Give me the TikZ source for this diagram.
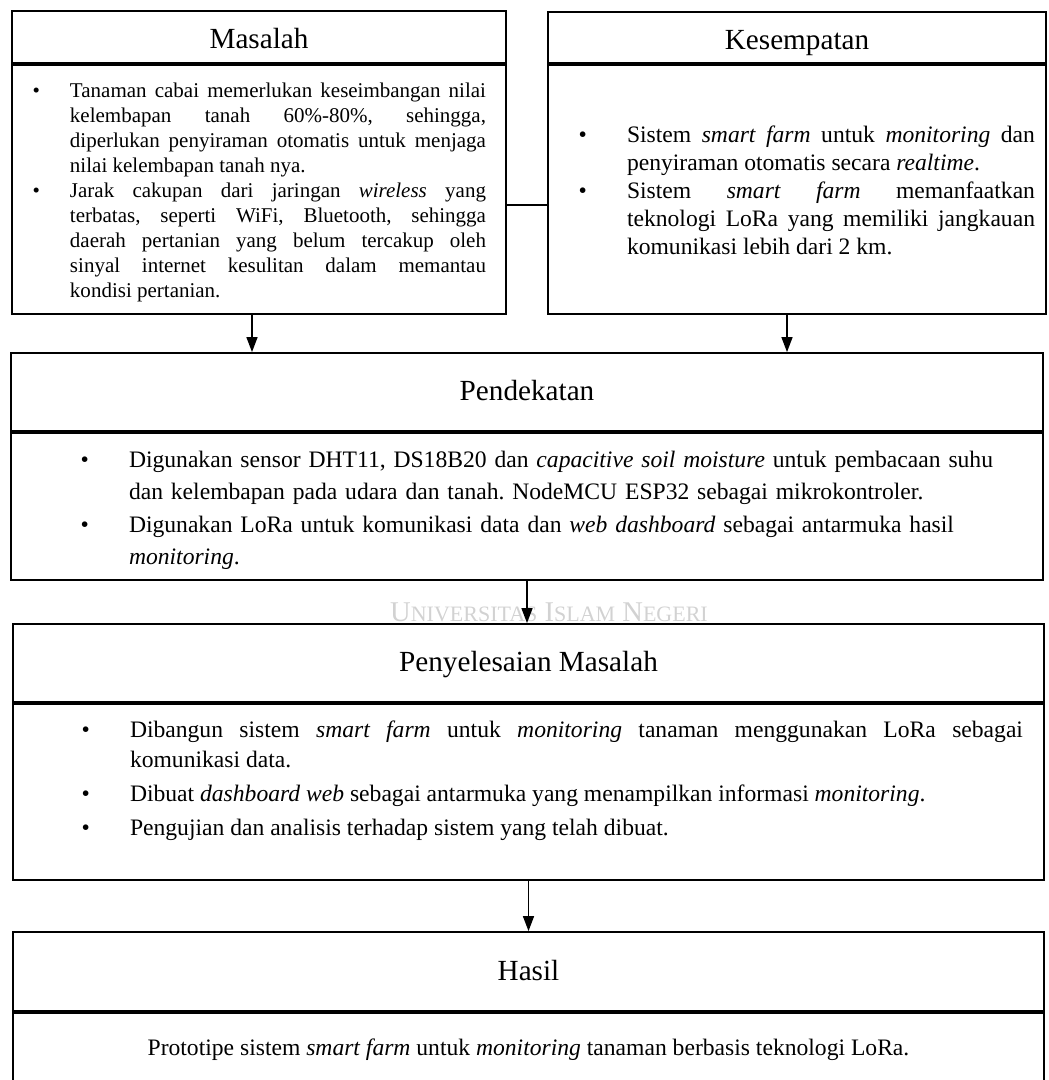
\documentclass[tikz,border=0pt]{standalone}
\usepackage{fontspec}
\setmainfont{Liberation Serif}
\usepackage{enumitem}
\usetikzlibrary{positioning,arrows.meta}
\hyphenpenalty=10000
\exhyphenpenalty=10000
\tolerance=9999
\emergencystretch=2em
\frenchspacing
\newcommand{\bodyfont}{\fontsize{11.8}{15}\selectfont}
\newcommand{\headfont}{\fontsize{14.6}{17}\selectfont}
\newcommand{\padbottom}[1]{\par\vspace{#1}\hrule height 0pt width 0pt}
\setlist[itemize]{topsep=0pt,partopsep=0pt,itemsep=0pt,parsep=0pt,labelsep=20pt}
\begin{document}
\begin{tikzpicture}[x=0.5pt,y=-0.5pt,
    head/.style={rectangle,draw,line width=0.9pt,inner sep=0pt,font=\headfont,text height=8.5pt,text depth=0pt},
    body/.style={rectangle,draw,line width=0.9pt,inner ysep=0pt,font=\bodyfont},
    arrow/.style={line width=0.7pt,-{Triangle[length=7.5pt,width=5.5pt]}}]
    \useasboundingbox (0,0) rectangle (1048,1080);
    \clip (0,0) rectangle (1048,1080);

    \node[text=gray!35] (wmark) at (549,612) {\fontsize{14.3}{16}\selectfont U{\fontsize{11}{13}\selectfont NIVERSITAS} I{\fontsize{11}{13}\selectfont SLAM} N{\fontsize{11}{13}\selectfont EGERI}};

    \node[head,text height=12pt,minimum width=247pt,minimum height=26pt] (masalahHead) at (259,37) {Masalah};
    \node[body,below=0pt of masalahHead,minimum width=247pt,minimum height=124.5pt,
          text width=227pt,inner xsep=10pt,align=justify] (masalahBody) {%
        \fontsize{10.5}{12.5}\selectfont
        \begin{itemize}[leftmargin=19pt,labelsep=15pt]
        \item Tanaman cabai memerlukan keseimbangan nilai\linebreak kelembapan tanah 60\%-80\%, sehingga,\linebreak diperlukan penyiraman otomatis untuk menjaga\linebreak nilai kelembapan tanah nya.
        \item Jarak cakupan dari jaringan \textit{wireless} yang\linebreak terbatas, seperti WiFi, Bluetooth, sehingga\linebreak daerah pertanian yang belum tercakup oleh\linebreak sinyal internet kesulitan dalam memantau\linebreak kondisi pertanian.
        \end{itemize}\padbottom{2pt}};

    \node[head,text height=12.5pt,minimum width=249pt,minimum height=25.5pt] (kesempatanHead) at (797,37.5) {Kesempatan};
    \node[body,below=0pt of kesempatanHead,minimum width=249pt,minimum height=124.5pt,
          text width=238pt,inner xsep=5.5pt,align=justify] (kesempatanBody) {%
        \fontsize{11.8}{14}\selectfont
        \begin{itemize}[leftmargin=34pt]
        \item Sistem \textit{smart farm} untuk \textit{monitoring} dan\linebreak penyiraman otomatis secara \textit{realtime}.
        \item Sistem \textit{smart farm} memanfaatkan\linebreak teknologi LoRa yang memiliki jangkauan\linebreak komunikasi lebih dari 2 km.
        \end{itemize}\padbottom{5pt}};

    \node[head,minimum width=516pt,minimum height=39pt] (pendekatanHead) at (527,392) {Pendekatan};
    \node[body,below=0pt of pendekatanHead,minimum width=516pt,minimum height=73.5pt,
          text width=495pt,inner xsep=10.5pt,align=left] (pendekatanBody) {%
        \fontsize{11.8}{16.25}\selectfont
        \begin{itemize}[leftmargin=48.5pt]
        \item Digunakan sensor DHT11, DS18B20 dan \textit{capacitive soil moisture} untuk pembacaan suhu dan kelembapan pada udara dan tanah. NodeMCU ESP32 sebagai mikrokontroler.
        \item Digunakan LoRa untuk komunikasi data dan \textit{web dashboard} sebagai antarmuka hasil \textit{monitoring}.
        \end{itemize}\padbottom{4pt}};

    \node[head,minimum width=515.5pt,minimum height=39pt] (penyelesaianHead) at (528.5,663) {Penyelesaian Masalah};
    \node[body,below=0pt of penyelesaianHead,minimum width=515.5pt,minimum height=88pt,
          text width=494.5pt,inner xsep=10.5pt,align=justify] (penyelesaianBody) {%
        \begin{itemize}[leftmargin=48pt,itemsep=2pt]
        \item Dibangun sistem \textit{smart farm} untuk \textit{monitoring} tanaman menggunakan LoRa sebagai komunikasi data.
        \item Dibuat \textit{dashboard web} sebagai antarmuka yang menampilkan informasi \textit{monitoring}.
        \item Pengujian dan analisis terhadap sistem yang telah dibuat.
        \end{itemize}\par\vspace{5pt}\mbox{}};

    \node[head,minimum width=515.5pt,minimum height=39.5pt] (hasilHead) at (528.5,971.5) {Hasil};
    \node[body,below=0pt of hasilHead,minimum width=515.5pt,minimum height=37pt] (hasilBody)
        {Prototipe sistem \textit{smart farm} untuk \textit{monitoring} tanaman berbasis teknologi LoRa.};

    % connectors
    \draw[line width=0.9pt] ([yshift=-8pt]masalahBody.east) -- ([yshift=-8pt]kesempatanBody.west);
    \draw[arrow] ([xshift=-3.5pt]masalahBody.south) -- ([xshift=-3.5pt]masalahBody.south |- pendekatanHead.north);
    \draw[arrow] ([xshift=-5pt]kesempatanBody.south) -- ([xshift=-5pt]kesempatanBody.south |- pendekatanHead.north);
    \draw[arrow] (pendekatanBody.south) -- (pendekatanBody.south |- penyelesaianHead.north);
    \draw[arrow] (penyelesaianBody.south) -- (penyelesaianBody.south |- hasilHead.north);
\end{tikzpicture}
\end{document}
